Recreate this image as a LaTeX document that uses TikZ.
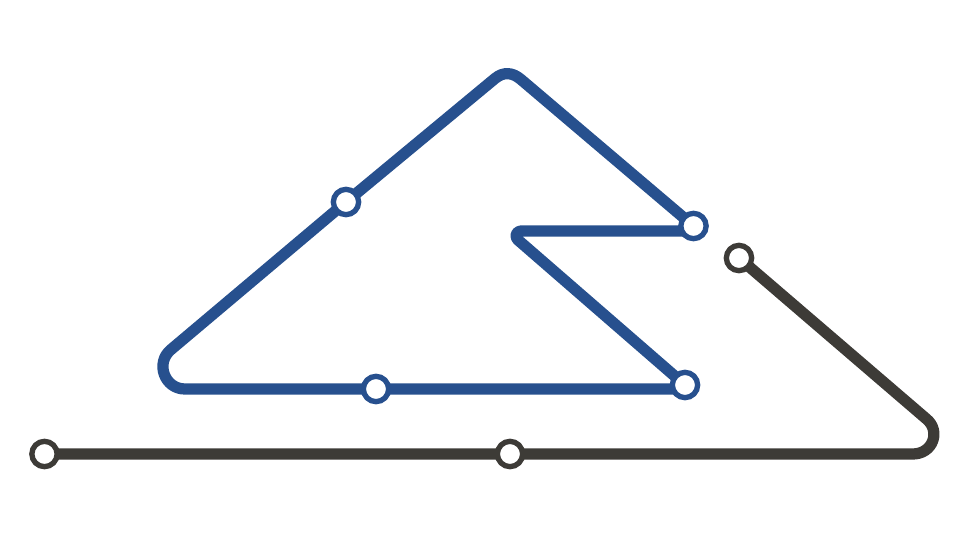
\documentclass[tikz,border=0pt]{standalone}
\usetikzlibrary{backgrounds,calc}
\definecolor{lineblue}{HTML}{27508E}
\definecolor{linegray}{HTML}{3D3B37}
\begin{document}
\begin{tikzpicture}[x=0.025cm,y=-0.025cm]
    \tikzstyle{stopblue}=[circle,draw=lineblue,fill=white,line width=3.8pt,minimum size=18pt,inner sep=0pt]
    \tikzstyle{stopgray}=[stopblue,draw=linegray]
    \tikzstyle{route}=[line width=8pt,line join=round]
    \useasboundingbox (0,0) rectangle (960,540);

    \node[stopblue] (topend) at (693.5,226) {};
    \node[stopblue] (upper)  at (346,202) {};
    \node[stopblue] (lower)  at (376,389) {};
    \node[stopblue] (botend) at (685,385) {};
    \node[stopgray] (start)  at (44.5,454)  {};
    \node[stopgray] (middle) at (510,454) {};
    \node[stopgray] (finish) at (739,258) {};

    \begin{scope}[on background layer]
        \draw[route,lineblue] (topend.center) -- (521,79.5)
            .. controls (512.5,72.2) and (503.5,71.5) .. (495,78.5)
            -- (upper.center) -- (170.7,349.8)
            .. controls (155.1,363.1) and (164.5,389) .. (185,389)
            -- (lower.center) -- ($(botend.center)+(0,4)$);
        \draw[route,lineblue] (botend.center) -- (517.8,239.8)
            .. controls (514.2,236.7) and (516.3,231) .. (521,231)
            -- ($(topend.center)+(0,5)$);
        \draw[route,linegray] (finish.center) -- (926.5,419)
            .. controls (941,431) and (933,454) .. (912.7,454)
            -- (middle.center) -- (start.center);
    \end{scope}
\end{tikzpicture}
\end{document}
